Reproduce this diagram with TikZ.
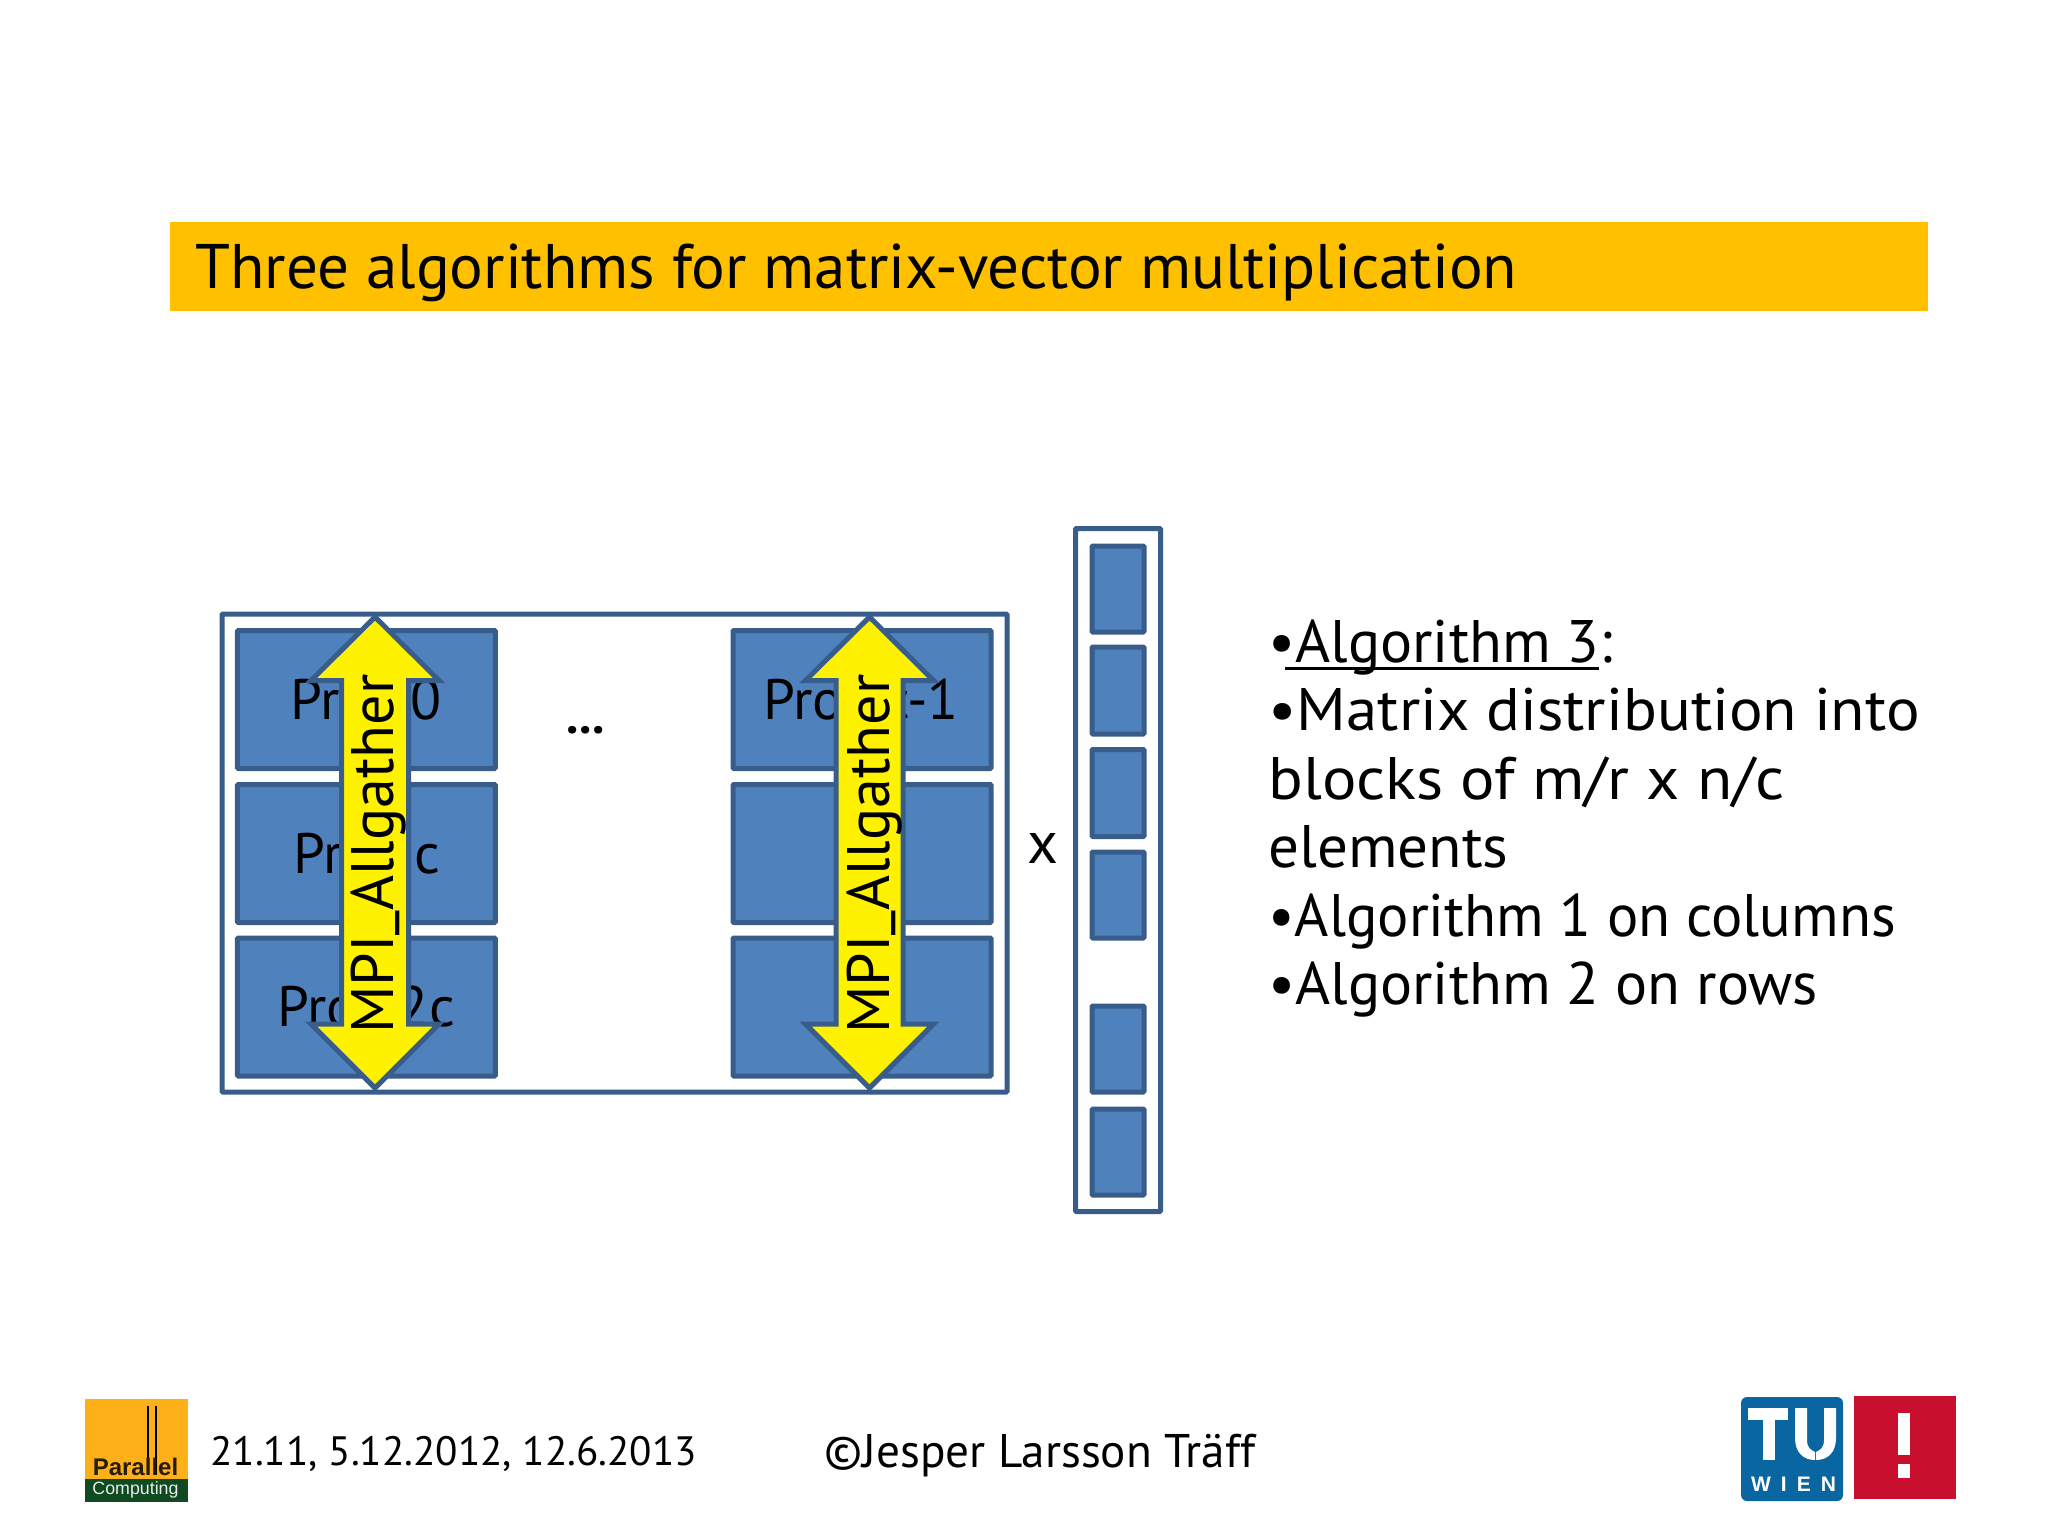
\documentclass[tikz,border=0pt]{standalone}
\usepackage{fontspec}
\usepackage{graphicx}
\setmainfont{PT Sans}
\newfontfamily\logofont{Liberation Sans}
\definecolor{boxfill}{HTML}{4F81BD}
\definecolor{boxline}{HTML}{385D8A}
\definecolor{titlebar}{HTML}{FFC000}
\definecolor{logoorange}{HTML}{FDB017}
\definecolor{logogreen}{HTML}{0F4A21}
\definecolor{tublue}{HTML}{0A66A0}
\definecolor{tured}{HTML}{C8102E}
\newcommand{\block}[5]{\node[blockbox, minimum width=#3*0.5pt, minimum height=#4*0.5pt] (#5) at (#1,#2) {};}
\tikzset{
  x=0.5pt, y=-0.5pt,
  blockbox/.style={draw=boxline, fill=boxfill, line width=2.5pt, rounded corners=0.5pt, inner sep=0pt, outer sep=0pt},
  framebox/.style={draw=boxline, fill=white, line width=2.5pt, rounded corners=0.5pt, inner sep=0pt, outer sep=0pt},
  yarrow/.style={draw=boxline, fill=yellow, line width=2.5pt, miter limit=10},
  slabel/.style={font=\fontsize{28.5}{32}\selectfont, inner sep=0pt, text=black},
  body/.style={font=\fontsize{30}{34.25}\selectfont, inner sep=0pt, text=black, align=left, anchor=north west},
  foot/.style={inner sep=0pt, text=black, anchor=west},
  lbl/.style={font=\fontsize{30}{32}\selectfont, inner sep=0pt, text=black, rotate=90},
}
\begin{document}
\begin{tikzpicture}
\useasboundingbox (0,0) rectangle (2048,1536);
\fill[white] (0,0) rectangle (2048,1536);
% title
\fill[titlebar] (170,222) rectangle (1928,311);
\node[font=\fontsize{31.5}{36}\selectfont, inner sep=0pt, anchor=west] (title) at (195,273) {Three algorithms for matrix-vector multiplication};
% matrix frame
\node[framebox, minimum width=392.5pt, minimum height=239pt] (matrix) at (614.5,853) {};
\block{366.3}{699.5}{258}{138}{b00}
\block{366.3}{853.5}{258}{138}{b10}
\block{366.3}{1007}{258}{138}{b20}
\block{862}{699.5}{258}{138}{b01}
\block{862}{853.5}{258}{138}{b11}
\block{862}{1007}{258}{138}{b21}
\node[slabel] (p0) at (366,700) {Proc 0};
\node[slabel] (pc) at (367,854) {Proc c};
\node[slabel] (p2c) at (366,1007) {Proc 2c};
\node[slabel] (pc1) at (861,700) {Proc c-1};
\node[slabel, font=\bfseries\fontsize{25}{30}\selectfont] (dots) at (586,730) {...};
% arrows
\draw[yarrow] (375,617) -- (439,680.5) -- (408.5,680.5) -- (408.5,1024) -- (439,1024) -- (375,1088) -- (311,1024) -- (341.5,1024) -- (341.5,680.5) -- (311,680.5) -- cycle;
\draw[yarrow] (869.5,617) -- (933.5,680.5) -- (903,680.5) -- (903,1024) -- (933.5,1024) -- (869.5,1088) -- (805.5,1024) -- (836,1024) -- (836,680.5) -- (805.5,680.5) -- cycle;
\node[lbl] (a1) at (379,854) {MPI\raisebox{3pt}{\_}Allgather};
\node[lbl] (a2) at (875,854) {MPI\raisebox{3pt}{\_}Allgather};
% times
\node[font=\fontsize{30}{34}\selectfont, inner sep=0pt] (times) at (1043,848) {x};
% vector
\node[framebox, minimum width=42.5pt, minimum height=341.5pt] (vec) at (1118,870) {};
\block{1118}{589}{52}{86}{v1}
\block{1118}{690.5}{52}{87}{v2}
\block{1118}{793}{52}{87}{v3}
\block{1118}{895}{52}{86}{v4}
\block{1118}{1049}{52}{86}{v5}
\block{1118}{1152}{52}{86}{v6}
% text
\node[body] (txt) at (1268,619) {\textbullet\kern-5.5pt\rlap{\rule[-4pt]{157pt}{1.5pt}}\kern5.5pt Algorithm 3:\\
\scalebox{1.048}[1]{\textbullet Matrix distribution into}\\
\scalebox{1.074}[1]{blocks of m/r x n/c}\\
\scalebox{1.017}[1]{elements}\\
\scalebox{0.976}[1]{\textbullet Algorithm 1 on columns}\\
\textbullet Algorithm 2 on rows};
% footer
\node[foot, font=\fontsize{20.5}{24}\selectfont] (date) at (210,1454) {21.11, 5.12.2012, 12.6.2013};
\node[foot, font=\fontsize{23.6}{28}\selectfont] (copy) at (824,1456) {©Jesper Larsson Träff};
% left logo
\fill[logoorange] (85,1399) rectangle (188,1479);
\fill[logogreen] (85,1479) rectangle (188,1502);
\draw[black, line width=1.4pt] (148,1406) -- (148,1475);
\draw[black, line width=1.4pt] (156,1406) -- (156,1475);
\node[font=\logofont\bfseries\fontsize{12}{14}\selectfont, inner sep=0pt, text=black!85!logoorange] (par) at (135.5,1467) {Parallel};
\node[font=\logofont\fontsize{8.9}{11}\selectfont, inner sep=0pt, text=white!90!logogreen] (comp) at (135.5,1490) {Computing};
% TU logo
\fill[tublue, rounded corners=3pt] (1741,1397) rectangle (1843,1501);
\fill[white] (1748,1408) rectangle (1788,1420);
\fill[white] (1763,1408) rectangle (1775,1460);
\fill[white] (1795,1408) -- (1807,1408) -- (1807,1440) .. controls (1807,1448) and (1811,1450) .. (1815,1452) -- (1815,1460) .. controls (1803,1460) and (1795,1452) .. (1795,1438) -- cycle;
\fill[white] (1836,1408) -- (1824,1408) -- (1824,1440) .. controls (1824,1448) and (1820,1450) .. (1816,1452) -- (1816,1460) .. controls (1828,1460) and (1836,1452) .. (1836,1438) -- cycle;
\node[font=\logofont\bfseries\fontsize{10.5}{12}\selectfont, inner sep=0pt, text=white] (wien) at (1793.5,1484) {W\hspace{5pt}I\hspace{5pt}E\hspace{5pt}N};
\fill[tured] (1854,1396) rectangle (1956,1499);
\fill[white] (1898,1413) rectangle (1910,1455);
\fill[white] (1898,1464) rectangle (1910,1478);
\end{tikzpicture}
\end{document}
